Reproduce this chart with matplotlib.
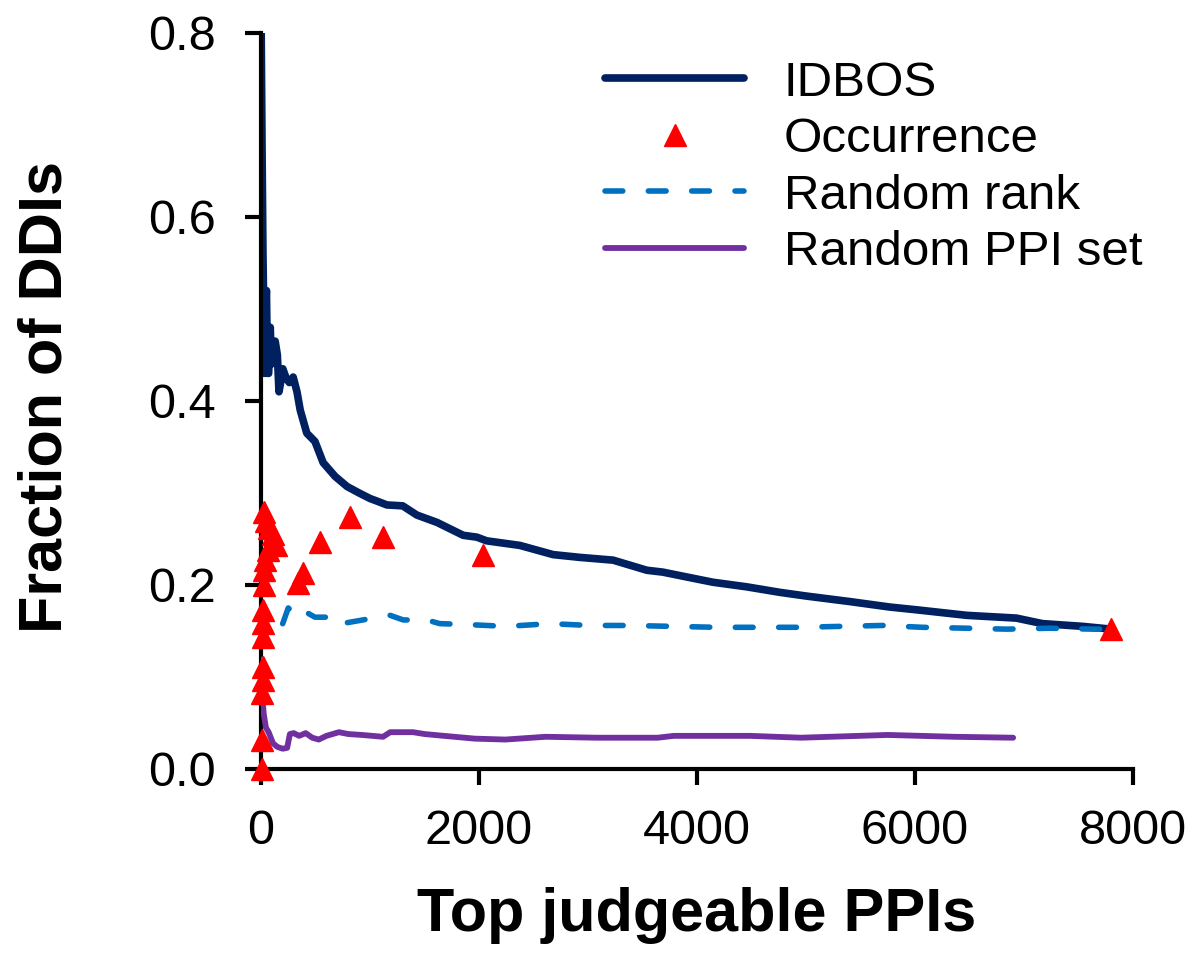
import numpy as np
import matplotlib
matplotlib.use("Agg")
import matplotlib.pyplot as plt

plt.rcParams['font.family'] = ['Liberation Sans', 'DejaVu Sans']

# IDBOS curve
idbos_x = [2, 10, 18, 25, 32, 40, 50, 60, 70, 85, 95, 110, 130, 150, 165, 180, 200, 230, 260,
           295, 330, 360, 420, 495, 570, 680, 790, 900, 1000, 1090, 1155, 1300, 1430, 1615,
           1855, 1980, 2070, 2375, 2680, 2925, 3230, 3540, 3685, 3935, 4145, 4455, 4760,
           5000, 5400, 5770, 6015, 6475, 6930, 7170, 7540, 7800]
idbos_y = [0.80, 0.67, 0.56, 0.50, 0.43, 0.50, 0.52, 0.43, 0.43, 0.48, 0.44, 0.46, 0.465, 0.45,
           0.41, 0.42, 0.435, 0.425, 0.42, 0.426, 0.41, 0.39, 0.365, 0.356, 0.333, 0.318,
           0.307, 0.300, 0.294, 0.290, 0.287, 0.286, 0.276, 0.268, 0.254, 0.252, 0.248,
           0.243, 0.233, 0.230, 0.227, 0.216, 0.214, 0.208, 0.203, 0.198, 0.192, 0.188,
           0.182, 0.176, 0.173, 0.167, 0.164, 0.158, 0.155, 0.152]

# Occurrence points
occ_x = [5, 10, 12, 14, 16, 18, 20, 22, 25, 30, 40, 60, 90, 140, 110, 70, 50, 30,
         340, 385, 540, 815, 1120, 2035, 7800]
occ_y = [0.0, 0.032, 0.083, 0.097, 0.111, 0.143, 0.159, 0.173, 0.200, 0.216, 0.227, 0.238,
         0.245, 0.243, 0.255, 0.262, 0.270, 0.279, 0.202, 0.213, 0.247, 0.274, 0.252,
         0.233, 0.152]

# Random rank
rank_x = [5, 15, 30, 60, 90, 110, 155, 190, 250, 300, 340, 375, 495, 700, 740, 935, 1020,
          1185, 1305, 1520, 1640, 1890, 2255, 2650, 3020, 3385, 3780, 4180, 4550, 4945,
          5310, 5705, 6070, 6475, 6840, 7235, 7630, 7720]
rank_y = [0.10, 0.125, 0.15, 0.165, 0.16, 0.165, 0.158, 0.155, 0.175, 0.170, 0.167, 0.173,
          0.165, 0.165, 0.158, 0.162, 0.164, 0.167, 0.162, 0.162, 0.158, 0.157, 0.155,
          0.158, 0.156, 0.156, 0.155, 0.154, 0.154, 0.154, 0.155, 0.156, 0.154, 0.153,
          0.152, 0.153, 0.152, 0.152]

# Random PPI set
ppi_x = [5, 15, 25, 45, 70, 110, 150, 200, 240, 265, 300, 350, 410, 470, 530, 600, 715, 800,
         925, 1120, 1185, 1395, 1500, 1680, 1960, 2240, 2610, 3080, 3640, 3785, 4485,
         4955, 5750, 6360, 6900]
ppi_y = [0.08, 0.075, 0.06, 0.045, 0.04, 0.028, 0.024, 0.022, 0.023, 0.038, 0.039, 0.036,
         0.039, 0.034, 0.032, 0.036, 0.040, 0.038, 0.037, 0.035, 0.040, 0.040, 0.038,
         0.036, 0.033, 0.032, 0.035, 0.034, 0.034, 0.036, 0.036, 0.034, 0.037, 0.035,
         0.034]

fig = plt.figure(figsize=(12, 9.61), dpi=100)
ax = fig.add_axes([0.2175, 0.1998, 0.7267, 0.7659])

ax.plot(idbos_x, idbos_y, color='#002060', lw=5.5, label='IDBOS', zorder=2,
        solid_joinstyle='round', solid_capstyle='round')
ax.plot(occ_x, occ_y, linestyle='none', marker='^', ms=16.5, color='#FF0000',
        label='Occurrence', zorder=5, clip_on=False)
ax.plot(rank_x, rank_y, color='#0070C0', lw=4, dashes=(3.2, 4.6), dash_capstyle='round',
        label='Random rank', zorder=3)
ax.plot(ppi_x, ppi_y, color='#7030A0', lw=4.2, label='Random PPI set', zorder=3,
        solid_capstyle='round')

ax.set_xlim(0, 8000)
ax.set_ylim(0, 0.8)
ax.set_xticks([0, 2000, 4000, 6000, 8000])
ax.set_yticks([0.0, 0.2, 0.4, 0.6, 0.8])
ax.set_yticklabels(['0.0', '0.2', '0.4', '0.6', '0.8'])

for side in ['top', 'right']:
    ax.spines[side].set_visible(False)
for side in ['left', 'bottom']:
    ax.spines[side].set_linewidth(3)
ax.tick_params(axis='both', direction='out', length=11.5, width=3, labelsize=35)
ax.tick_params(axis='x', pad=17)
ax.tick_params(axis='y', pad=21)

ax.set_xlabel('Top judgeable PPIs', fontsize=44, fontweight='bold')
ax.set_ylabel('Fraction of DDIs', fontsize=44, fontweight='bold')
ax.xaxis.set_label_coords(0.5, -0.1605)
ax.yaxis.set_label_coords(-0.2135, 0.505)

ax.legend(loc='upper left', bbox_to_anchor=(0.504, 0.937), bbox_transform=fig.transFigure,
          frameon=False, fontsize=35.5, handlelength=2.83, handletextpad=0.8,
          labelspacing=0.233, borderpad=0, borderaxespad=0, markerscale=1)

fig.savefig('out.png', dpi=100)
